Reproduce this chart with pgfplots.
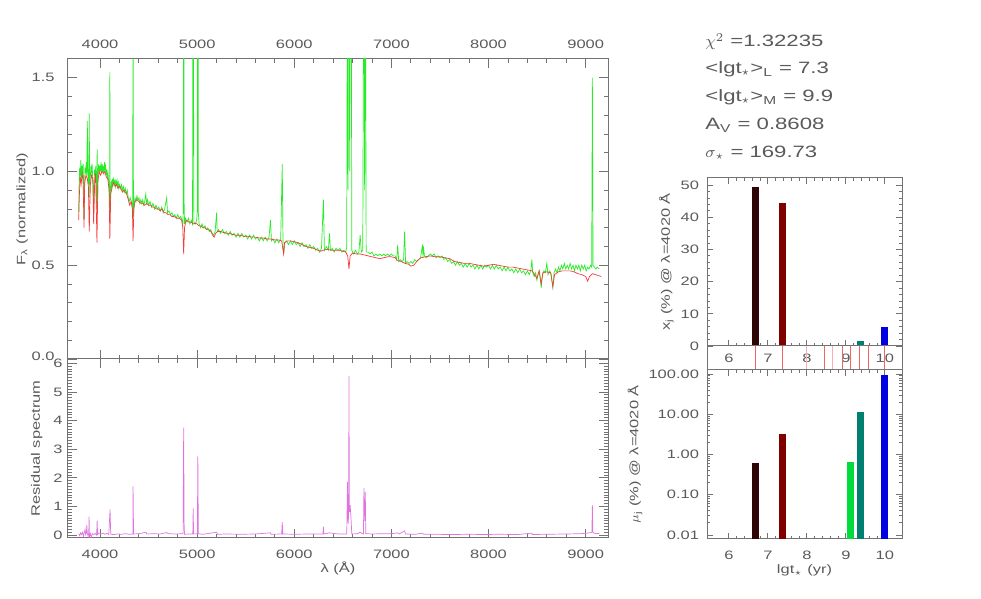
\documentclass[border=0pt]{standalone}
\usepackage{fontspec}
\setmainfont{Liberation Sans}[FakeStretch=1.35]
\usepackage{pgfplots}
\pgfplotsset{compat=1.18}
\definecolor{txt}{RGB}{90,90,90}
\definecolor{axc}{RGB}{115,115,115}
\definecolor{obs}{RGB}{40,235,40}
\definecolor{mod}{RGB}{245,60,60}
\definecolor{res}{RGB}{225,115,225}
\definecolor{b1}{RGB}{45,5,5}
\definecolor{b2}{RGB}{128,0,0}
\definecolor{b3}{RGB}{0,220,60}
\definecolor{b4}{RGB}{0,128,112}
\definecolor{b5}{RGB}{0,0,225}
\definecolor{rl}{RGB}{240,100,100}
\definecolor{rp}{RGB}{248,175,175}

\pgfplotsset{
  idl/.style={
    scale only axis, anchor=south west,
    axis line style={axc, line width=0.5pt},
    tick style={axc, line width=0.4pt},
    tick align=inside,
    tick label style={font=\fontsize{6.1}{7}\selectfont, text=txt},
    label style={font=\fontsize{6.1}{7}\selectfont, text=txt},
    /pgf/number format/assume math mode=true,
  },
  spec/.style={idl,
    width=270pt, xmin=3670, xmax=9230,
    xtick={4000,5000,6000,7000,8000,9000},
    xticklabels={4000,5000,6000,7000,8000,9000},
    minor x tick num=4,
    major tick length=4.5pt, minor tick length=2.2pt,
  },
  agebar/.style={idl,
    width=97.5pt, xmin=5.44, xmax=10.44,
    xtick={6,7,8,9,10}, minor x tick num=4,
    major tick length=3pt, minor tick length=1.5pt,
  },
}

\begin{document}
\begin{tikzpicture}
\useasboundingbox (0,0) rectangle (490.5pt,299.5pt);

% ---- observed and model spectrum
\begin{axis}[spec, at={(34pt,120pt)}, height=150pt,
    ymin=0, ymax=1.6,
    ytick={0,0.5,1,1.5}, yticklabels={\raisebox{3pt}{0.0},0.5,1.0,1.5},
    minor y tick num=4,
    xticklabel pos=upper,
    xticklabel style={yshift=1.5pt},
    yticklabel style={inner sep=0.5pt, xshift=-6pt},
    ylabel={F\textsubscript{λ} (normalized)},
    ylabel style={at={(axis description cs:-0.085,0.5)}, anchor=center, rotate=0},
  ]
\addplot[obs, line width=0.35pt] coordinates {
(3780,0.78) (3784,0.92) (3790,1.02) (3796,0.95) (3802,1.06) (3808,0.97)
(3814,1.03) (3820,0.98) (3826,1.04) (3832,0.90) (3836,0.74) (3840,0.92)
(3846,1.02) (3852,0.99) (3858,1.05) (3863,0.98) (3869,1.27) (3874,1.00)
(3880,0.93) (3885,1.02) (3889,1.31) (3893,0.86) (3900,0.97) (3906,1.03)
(3912,0.99) (3918,1.04) (3924,0.97) (3930,0.93) (3934,0.78) (3938,0.92)
(3944,1.01) (3950,0.98) (3956,1.03) (3962,0.90) (3966,0.80) (3970,1.12)
(3974,0.85) (3980,1.00) (3986,1.04) (3992,0.99) (3998,1.03) (4004,1.00)
(4010,1.05) (4016,0.99) (4022,1.04) (4028,1.00) (4034,1.03) (4040,0.98)
(4046,1.05) (4052,1.01) (4058,1.03) (4064,0.98) (4070,1.01) (4076,0.97)
(4082,0.99) (4088,0.95) (4094,0.92) (4098,0.80) (4101,1.53) (4104,0.78)
(4110,0.90) (4116,0.94) (4122,0.92) (4128,0.96) (4134,0.93) (4140,0.96)
(4146,0.94) (4152,0.95) (4158,0.92) (4164,0.95) (4170,0.93) (4176,0.95)
(4182,0.92) (4188,0.94) (4194,0.91) (4200,0.93) (4210,0.91) (4220,0.93)
(4230,0.90) (4240,0.92) (4250,0.89) (4260,0.91) (4270,0.88) (4280,0.90)
(4290,0.86) (4300,0.84) (4310,0.86) (4320,0.84) (4330,0.83) (4336,0.78)
(4340,2.00) (4344,0.76) (4350,0.82) (4360,0.86) (4370,0.84) (4380,0.87)
(4390,0.85) (4400,0.86) (4410,0.83) (4420,0.85) (4430,0.83) (4440,0.85)
(4450,0.82) (4460,0.84) (4471,0.88) (4480,0.83) (4490,0.85) (4500,0.82)
(4515,0.84) (4530,0.81) (4545,0.83) (4560,0.80) (4575,0.82) (4590,0.80)
(4605,0.81) (4620,0.79) (4635,0.81) (4650,0.78) (4665,0.80) (4686,0.86)
(4695,0.78) (4710,0.79) (4725,0.77) (4740,0.78) (4755,0.76) (4770,0.77)
(4785,0.75) (4800,0.77) (4815,0.75) (4830,0.76) (4845,0.74) (4853,0.72)
(4857,0.80) (4861,3.00) (4865,0.85) (4870,0.72) (4880,0.75) (4895,0.73)
(4910,0.75) (4925,0.72) (4940,0.74) (4952,0.72) (4959,2.50) (4966,0.73)
(4980,0.72) (4995,0.74) (5002,0.80) (5007,4.00) (5012,0.78) (5020,0.72)
(5035,0.70) (5050,0.72) (5065,0.70) (5080,0.71) (5095,0.69) (5110,0.70)
(5125,0.68) (5140,0.69) (5155,0.67) (5170,0.66) (5185,0.68) (5200,0.78)
(5206,0.68) (5220,0.69) (5240,0.67) (5260,0.69) (5280,0.67) (5300,0.68)
(5320,0.66) (5340,0.68) (5360,0.66) (5380,0.67) (5400,0.65) (5420,0.67)
(5440,0.65) (5460,0.67) (5480,0.65) (5500,0.66) (5520,0.64) (5540,0.66)
(5560,0.64) (5580,0.66) (5600,0.64) (5620,0.65) (5640,0.63) (5660,0.65)
(5680,0.63) (5700,0.65) (5720,0.63) (5740,0.65) (5755,0.74) (5765,0.63)
(5780,0.64) (5800,0.62) (5820,0.64) (5840,0.62) (5860,0.64) (5876,1.04)
(5884,0.60) (5892,0.56) (5900,0.62) (5920,0.63) (5940,0.61) (5960,0.63)
(5980,0.61) (6000,0.63) (6020,0.61) (6040,0.62) (6060,0.60) (6080,0.62)
(6100,0.60) (6120,0.61) (6140,0.59) (6160,0.61) (6180,0.59) (6200,0.60)
(6220,0.58) (6240,0.59) (6260,0.57) (6280,0.59) (6300,0.85) (6310,0.58)
(6330,0.60) (6350,0.58) (6363,0.67) (6372,0.58) (6390,0.59) (6410,0.57)
(6430,0.59) (6450,0.58) (6470,0.59) (6490,0.57) (6510,0.58) (6530,0.57)
(6540,0.60) (6548,2.50) (6554,0.90) (6563,3.00) (6570,1.00) (6584,3.00)
(6592,0.58) (6610,0.56) (6630,0.58) (6650,0.56) (6665,0.57) (6678,0.66)
(6690,0.57) (6705,0.58) (6717,2.50) (6724,0.90) (6731,2.50) (6740,0.57)
(6760,0.57) (6780,0.56) (6800,0.57) (6820,0.55) (6840,0.56) (6860,0.55)
(6880,0.56) (6900,0.55) (6920,0.56) (6940,0.55) (6960,0.56) (6980,0.55)
(7000,0.56) (7020,0.55) (7040,0.55) (7055,0.53) (7065,0.61) (7075,0.52)
(7090,0.53) (7110,0.52) (7125,0.53) (7136,0.68) (7146,0.51) (7160,0.52)
(7180,0.51) (7200,0.52) (7220,0.51) (7240,0.53) (7260,0.52) (7280,0.53)
(7300,0.54) (7320,0.61) (7325,0.54) (7330,0.60) (7340,0.55) (7360,0.54)
(7380,0.55) (7400,0.56) (7420,0.55) (7440,0.56) (7460,0.54) (7480,0.55)
(7500,0.54) (7520,0.55) (7540,0.53) (7560,0.54) (7580,0.52) (7600,0.53)
(7620,0.51) (7640,0.52) (7660,0.50) (7680,0.52) (7700,0.50) (7720,0.51)
(7740,0.49) (7760,0.51) (7780,0.49) (7800,0.51) (7820,0.49) (7840,0.50)
(7860,0.48) (7880,0.50) (7900,0.48) (7920,0.50) (7940,0.48) (7960,0.50)
(7980,0.49) (8000,0.50) (8020,0.48) (8040,0.50) (8060,0.48) (8080,0.50)
(8100,0.48) (8120,0.49) (8140,0.47) (8160,0.49) (8180,0.47) (8200,0.49)
(8220,0.47) (8240,0.48) (8260,0.46) (8280,0.48) (8300,0.46) (8320,0.48)
(8340,0.46) (8360,0.47) (8380,0.45) (8400,0.47) (8420,0.45) (8435,0.47)
(8446,0.53) (8455,0.46) (8470,0.44) (8485,0.46) (8498,0.42) (8510,0.45)
(8525,0.47) (8542,0.38) (8555,0.45) (8570,0.47) (8585,0.46) (8600,0.51)
(8612,0.45) (8630,0.47) (8645,0.45) (8662,0.38) (8675,0.46) (8690,0.48)
(8705,0.46) (8720,0.49) (8735,0.47) (8750,0.50) (8765,0.48) (8780,0.51)
(8795,0.48) (8810,0.50) (8825,0.48) (8840,0.51) (8855,0.48) (8870,0.50)
(8885,0.47) (8900,0.50) (8915,0.48) (8930,0.50) (8945,0.47) (8960,0.50)
(8975,0.48) (8990,0.50) (9005,0.47) (9020,0.49) (9035,0.48) (9050,0.50)
(9062,0.49) (9069,1.50) (9076,0.50) (9090,0.49) (9105,0.48) (9120,0.49)
(9140,0.48)
};
\addplot[mod, line width=0.35pt] coordinates {
(3780,0.74) (3786,0.86) (3795,0.97) (3805,0.93) (3815,0.99) (3825,0.95)
(3835,0.70) (3842,0.94) (3855,0.98) (3870,0.96) (3880,0.92) (3889,0.68)
(3900,0.93) (3912,0.98) (3925,0.96) (3934,0.72) (3945,0.95) (3955,0.99)
(3968,0.62) (3978,0.95) (3990,1.00) (4005,0.98) (4020,1.00) (4035,0.99)
(4050,1.00) (4065,0.97) (4080,0.96) (4093,0.90) (4101,0.64) (4110,0.88)
(4125,0.92) (4140,0.94) (4155,0.92) (4170,0.93) (4185,0.91) (4200,0.92)
(4215,0.91) (4230,0.89) (4245,0.90) (4260,0.89) (4275,0.88) (4290,0.85)
(4305,0.82) (4320,0.84) (4333,0.80) (4340,0.63) (4348,0.80) (4360,0.84)
(4380,0.85) (4400,0.84) (4420,0.83) (4440,0.83) (4460,0.82) (4480,0.83)
(4500,0.82) (4520,0.82) (4540,0.81) (4560,0.81) (4580,0.80) (4600,0.80)
(4620,0.79) (4640,0.80) (4660,0.78) (4680,0.78) (4700,0.77) (4720,0.77)
(4740,0.76) (4760,0.76) (4780,0.755) (4800,0.75) (4820,0.75) (4840,0.74)
(4852,0.70) (4861,0.56) (4870,0.70) (4885,0.74) (4900,0.735) (4920,0.73)
(4940,0.73) (4960,0.72) (4980,0.725) (5000,0.72) (5020,0.71) (5040,0.71)
(5060,0.70) (5080,0.70) (5100,0.69) (5120,0.69) (5140,0.68) (5160,0.66)
(5175,0.65) (5190,0.67) (5210,0.68) (5240,0.68) (5270,0.675) (5300,0.67)
(5330,0.67) (5360,0.665) (5400,0.66) (5440,0.66) (5480,0.655) (5520,0.655)
(5560,0.65) (5600,0.65) (5640,0.645) (5680,0.645) (5720,0.64) (5760,0.64)
(5800,0.635) (5840,0.635) (5870,0.63) (5890,0.56) (5900,0.62) (5930,0.63)
(5960,0.63) (6000,0.625) (6040,0.62) (6080,0.61) (6120,0.60) (6160,0.595)
(6200,0.59) (6240,0.58) (6270,0.575) (6300,0.58) (6340,0.585) (6380,0.58)
(6420,0.58) (6460,0.58) (6500,0.575) (6530,0.57) (6550,0.55) (6563,0.48)
(6575,0.55) (6600,0.565) (6640,0.56) (6680,0.56) (6720,0.555) (6760,0.55)
(6800,0.545) (6840,0.54) (6880,0.535) (6920,0.54) (6960,0.545) (7000,0.545)
(7040,0.54) (7060,0.525) (7100,0.52) (7140,0.51) (7180,0.505) (7200,0.495)
(7230,0.50) (7260,0.52) (7300,0.54) (7350,0.545) (7400,0.55) (7450,0.545)
(7500,0.545) (7550,0.54) (7600,0.535) (7650,0.52) (7700,0.515) (7750,0.51)
(7800,0.51) (7850,0.505) (7900,0.50) (7950,0.495) (8000,0.50) (8050,0.505)
(8100,0.50) (8150,0.495) (8200,0.49) (8250,0.49) (8300,0.485) (8350,0.48)
(8400,0.475) (8450,0.47) (8498,0.43) (8520,0.47) (8542,0.40) (8560,0.46)
(8600,0.465) (8640,0.46) (8662,0.385) (8680,0.45) (8720,0.465) (8760,0.47)
(8800,0.47) (8840,0.47) (8880,0.465) (8920,0.455) (8960,0.45) (9000,0.44)
(9020,0.415) (9040,0.44) (9070,0.455) (9100,0.45) (9130,0.445) (9160,0.44)
};
\end{axis}

% ---- residual spectrum
\begin{axis}[spec, at={(34pt,30.5pt)}, height=89.5pt,
    ymin=-0.1, ymax=6.15,
    ytick={0,1,2,3,4,5,6}, yticklabels={0,1,2,3,4,5,\raisebox{-1.5pt}{6}},
    minor y tick num=9,
    xticklabel pos=lower,
    xticklabel style={yshift=-2.5pt},
    yticklabel style={inner sep=0.5pt, xshift=-2pt},
    ylabel={Residual spectrum},
    ylabel style={at={(axis description cs:-0.058,0.5)}, anchor=center, rotate=0},
    xlabel={λ (Å)},
    xlabel style={at={(axis description cs:0.5,0)}, anchor=center, yshift=-15pt},
  ]
\addplot[res, line width=0.35pt] coordinates {
(3780,0.05) (3790,-0.02) (3800,0.08) (3810,0.02) (3820,0.10) (3830,-0.04)
(3840,0.12) (3846,0.20) (3852,0.02) (3860,0.10) (3864,0.35) (3869,0.05)
(3878,-0.05) (3884,0.10) (3887,0.65) (3891,-0.05) (3900,0.06) (3910,-0.08)
(3920,0.05) (3935,0.02) (3950,0.06) (3965,0.00) (3970,0.51) (3975,0.02)
(3990,0.08) (4010,0.04) (4030,0.07) (4050,0.03) (4070,0.06) (4090,0.02)
(4103,0.90) (4110,0.03) (4140,0.02) (4180,0.04) (4220,0.03) (4260,0.05)
(4300,0.03) (4338,0.04) (4340,1.70) (4345,0.04) (4400,0.05) (4474,0.10)
(4480,0.04) (4550,0.05) (4620,0.04) (4686,0.09) (4700,0.05) (4780,0.04)
(4855,0.05) (4861,3.75) (4866,0.30) (4870,0.03) (4910,0.04) (4955,0.04)
(4959,0.93) (4963,0.04) (5002,0.05) (5007,2.75) (5012,0.05) (5060,0.03)
(5200,0.10) (5210,0.03) (5300,0.04) (5450,0.03) (5600,0.04) (5755,0.08)
(5760,0.03) (5870,0.04) (5876,0.45) (5882,0.04) (6000,0.03) (6150,0.04)
(6295,0.04) (6300,0.30) (6305,0.04) (6363,0.08) (6450,0.04) (6540,0.04)
(6548,1.85) (6552,0.60) (6556,0.40) (6560,1.00) (6563,5.55) (6567,0.80)
(6575,1.05) (6584,0.60) (6592,0.04) (6650,0.05) (6678,0.10) (6700,0.05)
(6712,0.04) (6717,1.65) (6722,0.80) (6726,0.50) (6731,1.50) (6736,0.05)
(6800,0.04) (6900,0.05) (7000,0.05) (7065,0.08) (7080,0.04) (7136,0.15)
(7145,0.04) (7250,0.03) (7320,0.07) (7330,0.03) (7450,0.03) (7600,0.02)
(7800,0.03) (7950,0.02) (8100,0.03) (8300,0.02) (8446,0.07) (8450,0.02)
(8600,0.03) (8800,0.04) (8950,0.05) (9040,0.08) (9064,0.10) (9069,1.05)
(9074,0.10) (9100,0.05) (9140,0.06)
};
\end{axis}

% ---- light fractions
\begin{axis}[agebar, at={(353.5pt,126.5pt)}, height=84pt,
    ymin=0, ymax=52.2,
    ytick={0,10,20,30,40,50}, minor y tick num=4,
    xticklabels={},
    yticklabel style={xshift=-0.5pt},
    ylabel={x\textsubscript{j} (\%) @ λ=4020 Å},
    ylabel style={at={(axis description cs:-0.208,0.5)}, anchor=center, rotate=0},
  ]
\addplot[ybar, bar width=3.5pt, bar shift=0pt, fill=b1, draw=none] coordinates {(6.69,49.5)};
\addplot[ybar, bar width=3.5pt, bar shift=0pt, fill=b2, draw=none] coordinates {(7.38,44.3)};
\addplot[ybar, bar width=3.5pt, bar shift=0pt, fill=b3, draw=none] coordinates {(9.13,0.3)};
\addplot[ybar, bar width=3.5pt, bar shift=0pt, fill=b4, draw=none] coordinates {(9.38,1.5)};
\addplot[ybar, bar width=3.5pt, bar shift=0pt, fill=b5, draw=none] coordinates {(10.0,5.8)};
\end{axis}

% ---- base ages strip
\begin{axis}[agebar, at={(353.5pt,114.5pt)}, height=12pt,
    ymin=0, ymax=1, ytick=\empty,
    minor x tick num=0, major tick length=0pt,
    xticklabel style={anchor=center, yshift=6pt},
  ]
\addplot[ycomb, rl, line width=0.5pt] coordinates {
(6.69,1) (7.38,1) (8.44,1) (8.92,1) (9.13,1) (9.36,1) (9.59,1) (10.0,1)
};
\addplot[ycomb, rp, line width=0.5pt] coordinates {(8.0,1) (8.67,1)};
\end{axis}

% ---- mass fractions
\begin{axis}[agebar, at={(353.5pt,30pt)}, height=84.5pt,
    ymode=log, ymin=0.00794, ymax=125.9, log origin=infty,
    ytick={0.01,0.1,1,10,100},
    yticklabels={0.01,0.10,1.00,10.00,100.00},
    yticklabel style={xshift=-0.5pt},
    xticklabels={6,7,8,9,10},
    xticklabel style={yshift=-2.5pt},
    ylabel={$\mu$\textsubscript{j} (\%) @ λ=4020 Å},
    ylabel style={at={(axis description cs:-0.369,0.5)}, anchor=center, rotate=0},
    xlabel={lgt\textsubscript{$\star$} (yr)},
    xlabel style={at={(axis description cs:0.5,0)}, anchor=center, yshift=-15.5pt},
  ]
\addplot[ybar, bar width=3.5pt, bar shift=0pt, fill=b1, draw=none] coordinates {(6.69,0.63)};
\addplot[ybar, bar width=3.5pt, bar shift=0pt, fill=b2, draw=none] coordinates {(7.38,3.2)};
\addplot[ybar, bar width=3.5pt, bar shift=0pt, fill=b3, draw=none] coordinates {(9.13,0.64)};
\addplot[ybar, bar width=3.5pt, bar shift=0pt, fill=b4, draw=none] coordinates {(9.38,11.2)};
\addplot[ybar, bar width=3.5pt, bar shift=0pt, fill=b5, draw=none] coordinates {(10.0,95)};
\end{axis}

% ---- fit summary
\begin{scope}[every node/.style={anchor=base west, inner sep=0pt, text=txt, font=\fontsize{8.2}{10}\selectfont}]
\node at (352.5pt,276pt) {$\chi^2$ =1.32235};
\node at (352.5pt,262.5pt) {<lgt\textsubscript{$\star$}>\textsubscript{L} = 7.3};
\node at (352.5pt,248.5pt) {<lgt\textsubscript{$\star$}>\textsubscript{M} = 9.9};
\node at (352.5pt,234.5pt) {A\textsubscript{V} = 0.8608};
\node at (352.5pt,220.5pt) {$\sigma$\textsubscript{$\star$} = 169.73};
\end{scope}
\end{tikzpicture}
\end{document}
